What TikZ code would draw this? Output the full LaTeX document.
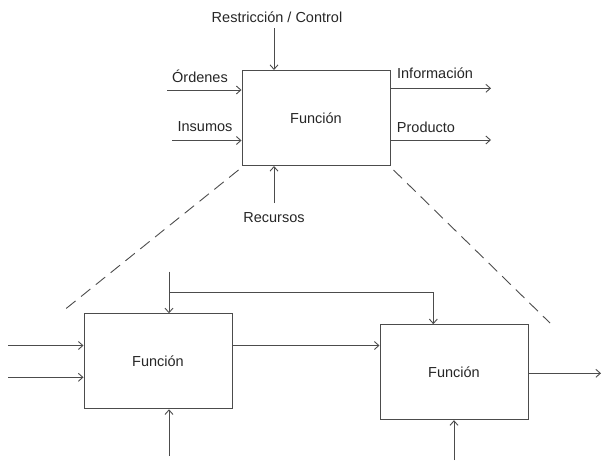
\documentclass[tikz,border=0pt]{standalone}
\usepackage{fontspec}
\setmainfont{Liberation Sans}
\usetikzlibrary{positioning}
\usetikzlibrary{arrows.meta}
\tikzset{x=1pt, y=-1pt,
>={Straight Barb[length=4.5pt,width=8pt]}, % Open arrow heads
every node/.style={ % Sets the text for all labels
font=\fontsize{14.5}{17}\selectfont,
text=black!85},
fbox/.style={ % Sets the properties for each function box
draw=black!70,
line width=1pt,
minimum width=148pt,
minimum height=95pt},
flow/.style={ % Sets the properties for each arrow
draw=black!70,
line width=0.9pt,
->},
zoomline/.style={ % Dashed lines to the detail
draw=black!70,
line width=0.9pt,
dash pattern=on 12pt off 7pt}}
\begin{document}
\begin{tikzpicture}
\useasboundingbox (0,0) rectangle (602,463);
% upper function
\node[fbox] (f0) at (316,118) {Función};
\coordinate (ctl) at (274,28);
\coordinate (ord) at (167,90);
\coordinate (ins) at (172,140.5);
\coordinate (inf) at (491,88.3);
\coordinate (prod) at (491,140);
\coordinate (rec) at (274,203);
\node (lctl) at (277,17) {Restricción / Control};
\node (lord) at (200,76) {Órdenes};
\node (lins) at (205,127) {Insumos};
\node (linf) at (435,73) {Información};
\node (lprod) at (426,127) {Producto};
\node (lrec) at (274,218) {Recursos};
\draw[flow] (ctl) -- (ctl |- f0.north);
\draw[flow] (ord) -- (ord -| f0.west);
\draw[flow] (ins) -- (ins -| f0.west);
\draw[flow] (inf -| f0.east) -- (inf);
\draw[flow] (prod -| f0.east) -- (prod);
\draw[flow] (rec) -- (rec |- f0.south);
% dashed lines
\coordinate (zl) at (63,311);
\coordinate (zr) at (550,323);
\draw[zoomline] ([shift={(-3,4)}]f0.south west) -- (zl);
\draw[zoomline] ([shift={(3,4)}]f0.south east) -- (zr);
% lower functions
\node[fbox] (f1) at (158,361.3) {Función};
\node[fbox] (f2) at (454,372.2) {Función};
\coordinate (ctl1) at (169,271.7);
\coordinate (br) at (169,292.3);
\coordinate (br2) at (433.3,292.3);
\coordinate (in1) at (8,345.5);
\coordinate (in2) at (8,377.3);
\coordinate (out) at (601,373.3);
\coordinate (rec1) at (169,456);
\coordinate (rec2) at (454,460);
\draw[flow] (ctl1) -- (ctl1 |- f1.north);
\draw[flow] (br) -- (br2) -- (br2 |- f2.north);
\draw[flow] (in1) -- (in1 -| f1.west);
\draw[flow] (in2) -- (in2 -| f1.west);
\draw[flow] (in1 -| f1.east) -- (in1 -| f2.west);
\draw[flow] (out -| f2.east) -- (out);
\draw[flow] (rec1) -- (rec1 |- f1.south);
\draw[flow] (rec2) -- (rec2 |- f2.south);
\end{tikzpicture}
\end{document}
